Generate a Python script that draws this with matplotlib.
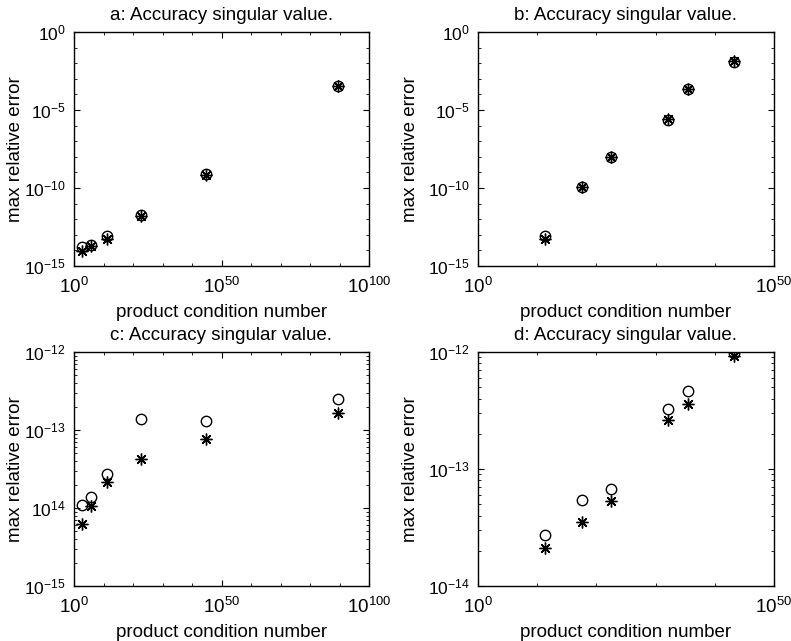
import numpy as np
import matplotlib
matplotlib.use("Agg")
import matplotlib.pyplot as plt
from matplotlib.ticker import FixedLocator, NullFormatter

plt.rcParams['font.family'] = ['Liberation Sans', 'DejaVu Sans']
plt.rcParams['mathtext.fontset'] = 'custom'
plt.rcParams['mathtext.rm'] = 'Liberation Sans'
plt.rcParams['mathtext.it'] = 'Liberation Sans'
plt.rcParams['mathtext.default'] = 'regular'

# log10 of product condition number
cond_ac = [2.6, 5.7, 11.1, 22.6, 44.7, 89.6]
cond_bd = [11.3, 17.6, 22.5, 32.1, 35.5, 43.2]

# log10 of max relative error (o = circles, s = asterisks)
a_o = [-13.78, -13.67, -13.05, -11.74, -9.08, -3.49]
a_s = [-14.03, -13.71, -13.26, -11.80, -9.15, -3.49]
b_o = [-13.05, -9.94, -7.99, -5.64, -3.66, -1.93]
b_s = [-13.24, -9.94, -7.99, -5.55, -3.66, -1.84]
c_o = [-13.96, -13.86, -13.56, -12.86, -12.88, -12.60]
c_s = [-14.21, -13.97, -13.67, -13.37, -13.11, -12.78]
d_o = [-13.566, -13.266, -13.169, -12.489, -12.337, -12.009]
d_s = [-13.674, -13.449, -13.274, -12.580, -12.446, -12.030]

titles = ['a: Accuracy singular value.', 'b: Accuracy singular value.',
          'c: Accuracy singular value.', 'd: Accuracy singular value.']

W, H = 791, 641
fig = plt.figure(figsize=(W / 100, H / 100), dpi=100)

rects = [(74, 32, 369, 266), (478, 32, 774, 266),
         (74, 352, 369, 586), (478, 352, 774, 586)]
ylab_x = [24, 419, 24, 419]

panels = [
    (cond_ac, a_o, a_s, (0, 100), [0, 50, 100], (-15, 0), [-15, -10, -5, 0], None),
    (cond_bd, b_o, b_s, (0, 50), [0, 50], (-15, 0), [-15, -10, -5, 0], None),
    (cond_ac, c_o, c_s, (0, 100), [0, 50, 100], (-15, -12), [-15, -14, -13, -12],
     ['$10^{-15}$', '$10^{14}$', '$10^{-13}$', '$10^{-12}$']),
    (cond_bd, d_o, d_s, (0, 50), [0, 50], (-14, -12), [-14, -13, -12], None),
]

asterisk = (8, 2, 0)

for i, (r, p) in enumerate(zip(rects, panels)):
    x0, y0, x1, y1 = r
    ax = fig.add_axes([x0 / W, 1 - y1 / H, (x1 - x0) / W, (y1 - y0) / H])
    xs, yo, ys, xlim, xmaj, ylim, ymaj, ylabs = p
    x = 10.0 ** np.array(xs)
    ax.loglog(x, 10.0 ** np.array(yo), 'o', mfc='none', mec='k', ms=7.5, mew=1.0)
    ax.loglog(x, 10.0 ** np.array(ys), ls='none', marker=asterisk, color='k', ms=8.5, mew=1.0)
    ax.set_xlim(10.0 ** xlim[0], 10.0 ** xlim[1])
    ax.set_ylim(10.0 ** ylim[0], 10.0 ** ylim[1])

    ax.xaxis.set_major_locator(FixedLocator([10.0 ** k for k in xmaj]))
    ax.xaxis.set_minor_locator(FixedLocator([10.0 ** k for k in range(xlim[0], xlim[1] + 1, 10)]))
    ax.set_xticklabels(['$10^{%d}$' % k for k in xmaj])
    ax.xaxis.set_minor_formatter(NullFormatter())

    ax.yaxis.set_major_locator(FixedLocator([10.0 ** k for k in ymaj]))
    if ylim[1] - ylim[0] > 5:
        ymin = [10.0 ** k for k in range(ylim[0], ylim[1] + 1)]
    else:
        ymin = [m * 10.0 ** k for k in range(ylim[0], ylim[1]) for m in range(1, 10)]
    ax.yaxis.set_minor_locator(FixedLocator(ymin))
    if ylabs is None:
        ylabs = ['$10^{%d}$' % k for k in ymaj]
    ax.set_yticklabels(ylabs)
    ax.yaxis.set_minor_formatter(NullFormatter())

    ax.tick_params(which='both', direction='in', top=True, right=True)
    ax.tick_params(axis='x', which='major', pad=8, labelsize=13.5)
    ax.tick_params(axis='y', which='major', pad=6, labelsize=12.5)
    ax.tick_params(which='major', length=4, width=0.8)
    ax.tick_params(which='minor', length=2, width=0.6)
    for s in ax.spines.values():
        s.set_linewidth(1.0)

    ax.set_title(titles[i], fontsize=13.5, pad=9)
    ax.set_xlabel('product condition number', fontsize=13.5, labelpad=5)
    ax.set_ylabel('max relative error', fontsize=13.5)
    ax.yaxis.set_label_coords((ylab_x[i] - x0) / (x1 - x0), 0.5)

fig.savefig('out.png', dpi=100)
